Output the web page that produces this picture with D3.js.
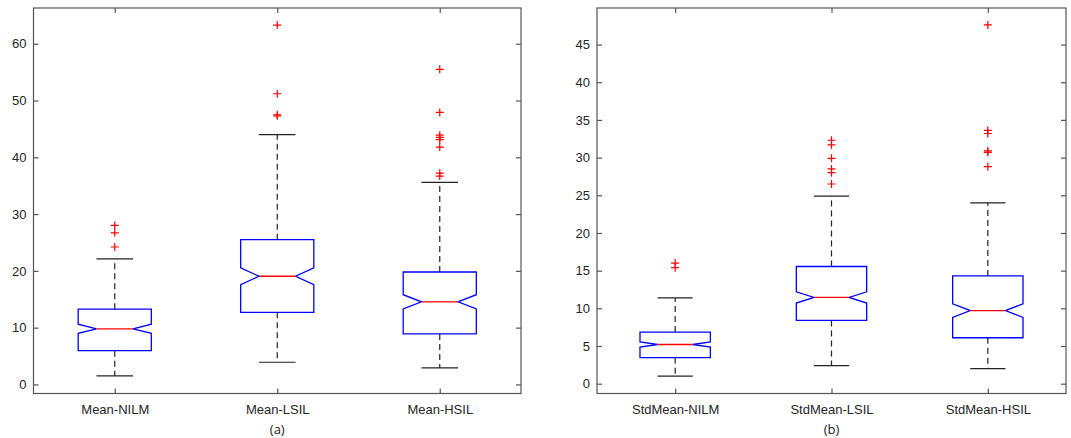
<!DOCTYPE html>
<html>
<head>
<meta charset="utf-8">
<script src="https://cdn.jsdelivr.net/npm/d3@7"></script>
<style>
  body { margin: 0; background: #fff; }
  svg { display: block; font-family: "Liberation Sans", Arial, sans-serif; }
  .tick-label { font-size: 13px; fill: #262626; }
  .sub-caption { font-size: 13px; fill: #222; font-family: "Open Sans", sans-serif; }
</style>
</head>
<body>
<svg id="vis-svg" width="1071" height="438"></svg>
<script>
// panel (a): mean values
var meanLabels = ["Mean-NILM", "Mean-LSIL", "Mean-HSIL"];
var meanLowWhisker = [1.5, 3.9, 2.9];
var meanQ1 = [5.95, 12.7, 8.9];
var meanMedian = [9.8, 19.05, 14.55];
var meanQ3 = [13.25, 25.5, 19.8];
var meanHighWhisker = [22.1, 44.0, 35.6];
var meanNotch = [0.8, 1.5, 1.25];
var meanOutliers = [
  [28.0, 26.7, 24.2],
  [63.3, 51.2, 47.5, 47.3],
  [55.5, 47.9, 43.9, 43.5, 43.1, 41.8, 37.2, 36.7]
];
var meanTicks = [0, 10, 20, 30, 40, 50, 60];

// panel (b): std of the mean values
var stdLabels = ["StdMean-NILM", "StdMean-LSIL", "StdMean-HSIL"];
var stdLowWhisker = [1.0, 2.4, 2.0];
var stdQ1 = [3.45, 8.4, 6.1];
var stdMedian = [5.2, 11.45, 9.7];
var stdQ3 = [6.85, 15.55, 14.3];
var stdHighWhisker = [11.4, 24.9, 24.0];
var stdNotch = [0.35, 0.75, 0.9];
var stdOutliers = [
  [16.0, 15.4],
  [32.3, 31.7, 29.9, 28.5, 28.0, 26.5],
  [47.6, 33.6, 33.2, 30.9, 30.7, 28.8]
];
var stdTicks = [0, 5, 10, 15, 20, 25, 30, 35, 40, 45];

function NotchBoxPlot() {
}

// Build the rows for one panel from the named arrays
NotchBoxPlot.prototype.buildRows = function(labels, lo, q1, med, q3, hi, notch, outliers) {
  return labels.map(function(label, i) {
    return {
      label: label, pos: i + 1,
      lo: lo[i], q1: q1[i], med: med[i], q3: q3[i], hi: hi[i],
      notch: notch[i], outliers: outliers[i]
    };
  });
};

NotchBoxPlot.prototype.draw = function(svg, rows, frame, yDomain, yTicks, caption) {
  var x = d3.scaleLinear().domain([0.5, rows.length + 0.5]).range([frame.left, frame.right]);
  var y = d3.scaleLinear().domain(yDomain).range([frame.bottom, frame.top]);
  var boxW = 0.45;   // in category units, like matlab 'Widths'
  var tickLen = 5;

  var g = svg.append("g");

  // matlab style axes: ticks pointing inwards, mirrored on all sides
  var axisColor = "#555";
  g.append("g")
      .attr("transform", "translate(" + frame.left + ",0)")
      .call(d3.axisLeft(y).tickValues(yTicks).tickSizeInner(-tickLen).tickSizeOuter(0).tickPadding(7))
      .call(function(a) { a.select(".domain").remove(); });
  g.append("g")
      .attr("transform", "translate(" + frame.right + ",0)")
      .call(d3.axisRight(y).tickValues(yTicks).tickSizeInner(-tickLen).tickSizeOuter(0).tickFormat(""))
      .call(function(a) { a.select(".domain").remove(); });
  g.append("g")
      .attr("transform", "translate(0," + frame.bottom + ")")
      .call(d3.axisBottom(x).tickValues(rows.map(function(d) { return d.pos; }))
        .tickFormat(function(d) { return rows[d - 1].label; })
        .tickSizeInner(-tickLen).tickSizeOuter(0).tickPadding(11))
      .call(function(a) { a.select(".domain").remove(); });
  g.append("g")
      .attr("transform", "translate(0," + frame.top + ")")
      .call(d3.axisTop(x).tickValues(rows.map(function(d) { return d.pos; }))
        .tickSizeInner(-tickLen).tickSizeOuter(0).tickFormat(""))
      .call(function(a) { a.select(".domain").remove(); });

  g.selectAll(".tick line").attr("stroke", axisColor).attr("stroke-width", 1.2);
  g.selectAll(".tick text")
      .attr("class", "tick-label")
      .style("font-size", "13px")
      .style("font-family", "'Liberation Sans', Arial, sans-serif")
      .attr("fill", "#262626");

  g.append("rect")
      .attr("x", frame.left).attr("y", frame.top)
      .attr("width", frame.right - frame.left)
      .attr("height", frame.bottom - frame.top)
      .attr("fill", "none")
      .attr("stroke", axisColor)
      .attr("stroke-width", 1.2);

  var boxes = g.selectAll(".box").data(rows).enter().append("g").attr("class", "box");

  // dashed whiskers
  boxes.append("line")
      .attr("x1", function(d) { return x(d.pos); }).attr("x2", function(d) { return x(d.pos); })
      .attr("y1", function(d) { return y(d.q3); }).attr("y2", function(d) { return y(d.hi); })
      .attr("stroke", "#222").attr("stroke-width", 1.2).attr("stroke-dasharray", "6,4");
  boxes.append("line")
      .attr("x1", function(d) { return x(d.pos); }).attr("x2", function(d) { return x(d.pos); })
      .attr("y1", function(d) { return y(d.q1); }).attr("y2", function(d) { return y(d.lo); })
      .attr("stroke", "#222").attr("stroke-width", 1.2).attr("stroke-dasharray", "6,4");

  // whisker caps are half the box width
  ["hi", "lo"].forEach(function(key) {
    boxes.append("line")
        .attr("x1", function(d) { return x(d.pos - boxW / 4); })
        .attr("x2", function(d) { return x(d.pos + boxW / 4); })
        .attr("y1", function(d) { return y(d[key]); })
        .attr("y2", function(d) { return y(d[key]); })
        .attr("stroke", "#222").attr("stroke-width", 1.2);
  });

  // notched box outline
  boxes.append("path")
      .attr("d", function(d) {
        var l = d.pos - boxW / 2, r = d.pos + boxW / 2;
        var il = d.pos - boxW / 4, ir = d.pos + boxW / 4;
        var pts = [
          [l, d.q1], [l, d.med - d.notch], [il, d.med], [l, d.med + d.notch], [l, d.q3],
          [r, d.q3], [r, d.med + d.notch], [ir, d.med], [r, d.med - d.notch], [r, d.q1]
        ];
        return d3.line().x(function(p) { return x(p[0]); }).y(function(p) { return y(p[1]); })(pts) + "Z";
      })
      .attr("fill", "none")
      .attr("stroke", "#0000ff")
      .attr("stroke-width", 1.3);

  boxes.append("line")
      .attr("x1", function(d) { return x(d.pos - boxW / 4); })
      .attr("x2", function(d) { return x(d.pos + boxW / 4); })
      .attr("y1", function(d) { return y(d.med); })
      .attr("y2", function(d) { return y(d.med); })
      .attr("stroke", "#ff0000").attr("stroke-width", 1.3);

  // outliers as red '+'
  var pts = [];
  rows.forEach(function(d) {
    d.outliers.forEach(function(v) { pts.push({ pos: d.pos, v: v }); });
  });
  g.selectAll(".outlier").data(pts).enter().append("path")
      .attr("class", "outlier")
      .attr("d", function(p) {
        var cx = x(p.pos), cy = y(p.v), s = 4;
        return "M" + (cx - s) + "," + cy + "H" + (cx + s) + "M" + cx + "," + (cy - s) + "V" + (cy + s);
      })
      .attr("stroke", "#ff0000")
      .attr("stroke-width", 1.2)
      .attr("fill", "none");

  svg.append("text")
      .attr("class", "sub-caption")
      .attr("x", (frame.left + frame.right) / 2)
      .attr("y", 434)
      .attr("text-anchor", "middle")
      .text(caption);
};

var svg = d3.select("#vis-svg");
svg.append("rect").attr("width", 1071).attr("height", 438).attr("fill", "#fff");

var plot = new NotchBoxPlot();
plot.draw(svg,
  plot.buildRows(meanLabels, meanLowWhisker, meanQ1, meanMedian, meanQ3, meanHighWhisker, meanNotch, meanOutliers),
  { left: 33.5, right: 521, top: 8, bottom: 393.5 }, [-1.6, 66.3], meanTicks, "(a)");
plot.draw(svg,
  plot.buildRows(stdLabels, stdLowWhisker, stdQ1, stdMedian, stdQ3, stdHighWhisker, stdNotch, stdOutliers),
  { left: 597, right: 1066, top: 8, bottom: 393.5 }, [-1.3, 49.85], stdTicks, "(b)");
</script>
</body>
</html>
